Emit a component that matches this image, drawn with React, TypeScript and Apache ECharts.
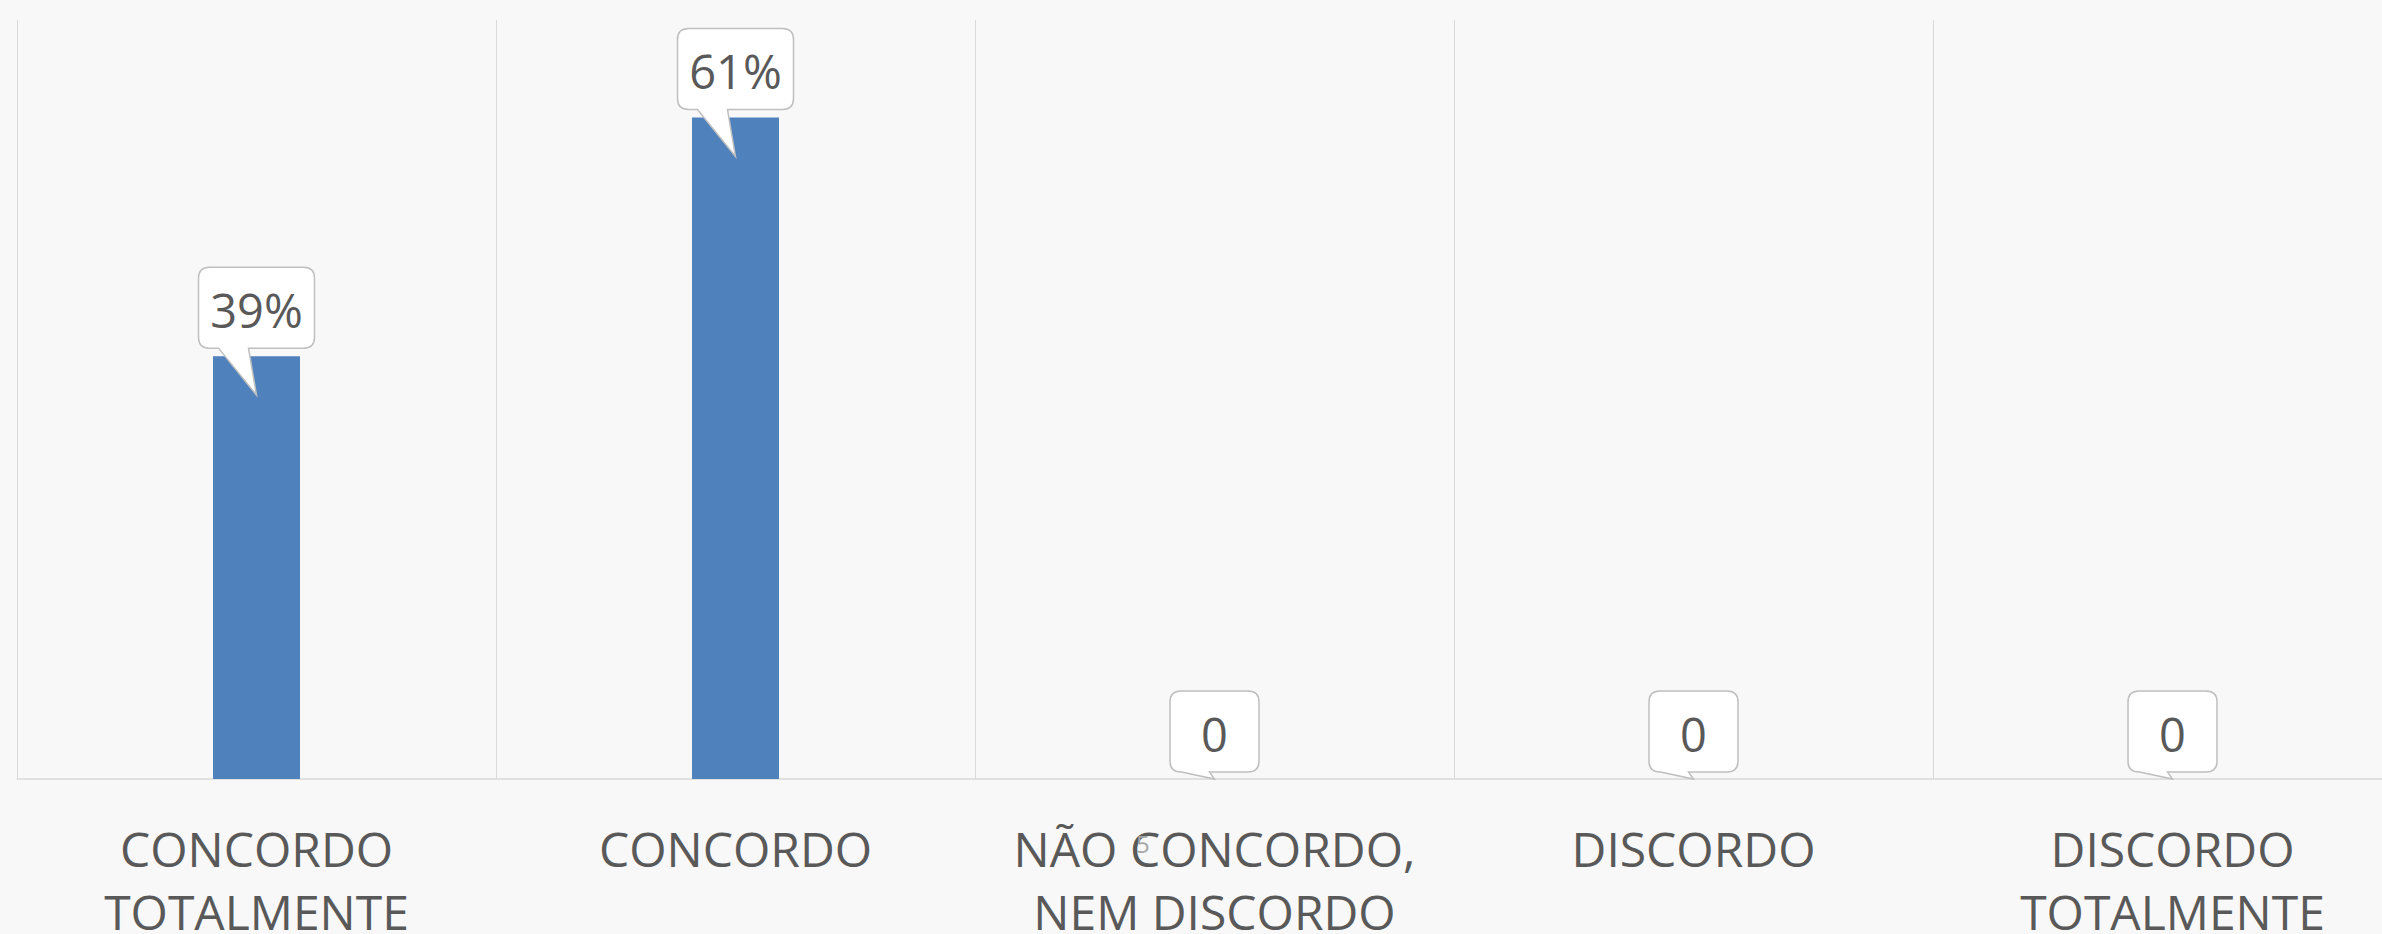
import React, { useEffect, useRef } from "react";
import * as echarts from "echarts";

const categories = [
  "CONCORDO\nTOTALMENTE",
  "CONCORDO",
  "NÃO CONCORDO,\nNEM DISCORDO",
  "DISCORDO",
  "DISCORDO\nTOTALMENTE",
];
const values = [0.39, 0.61, 0, 0, 0];
const valueLabels = ["39%", "61%", "0", "0", "0"];
const yMin = 0;
const yMax = 0.7;
const pageNumber = "5";

export default function App() {
  const ref = useRef<HTMLDivElement>(null);

  useEffect(() => {
    if (!ref.current) return;
    const chart = echarts.init(ref.current, undefined, { renderer: "svg" });

    const calloutData = values.map((v, i) => [i, v]);

    const option: any = {
      animation: false,
      backgroundColor: "#F8F8F8",
      grid: {
        left: 17,
        right: 8,
        top: 20,
        bottom: 155,
        containLabel: false,
        outerBoundsMode: "none",
      },
      xAxis: {
        type: "category",
        data: categories,
        boundaryGap: true,
        axisLine: { show: true, lineStyle: { color: "#D9D9D9", width: 1.5 } },
        axisTick: { show: false },
        splitLine: { show: true, interval: 0, lineStyle: { color: "#D9D9D9", width: 1 } },
        axisLabel: {
          interval: 0,
          margin: 38,
          fontSize: 48,
          lineHeight: 63,
          fontFamily: "Open Sans",
          color: "#595959",
        },
      },
      yAxis: {
        type: "value",
        min: yMin,
        max: yMax,
        show: false,
        splitLine: { show: false },
      },
      series: [
        {
          type: "bar",
          data: values,
          barWidth: 87,
          itemStyle: { color: "#4F81BD" },
          z: 2,
        },
        {
          type: "custom",
          data: calloutData,
          encode: { x: 0, y: 1 },
          z: 5,
          clip: false,
          renderItem: (params: any, api: any) => {
            const idx = params.dataIndex;
            const v = api.value(1);
            const pt = api.coord([api.value(0), v]);
            const cx = pt[0];
            const yTop = pt[1];
            const isZero = v === 0;
            const w = isZero ? 89 : 116;
            const h = 81;
            const gap = isZero ? 7 : 8;
            const tipDy = isZero ? 0 : 39;
            const x0 = cx - w / 2;
            const x1 = cx + w / 2;
            const y1 = yTop - gap;
            const y0 = y1 - h;
            const r = 11;
            const tx0 = cx - (isZero ? 33 : 38);
            const tx1 = cx - (isZero ? 5 : 8);
            const px = cx;
            const py = yTop + tipDy;
            const d =
              `M${x0 + r},${y0} L${x1 - r},${y0} Q${x1},${y0} ${x1},${y0 + r} ` +
              `L${x1},${y1 - r} Q${x1},${y1} ${x1 - r},${y1} L${tx1},${y1} L${px},${py} ` +
              `L${tx0},${y1} L${x0 + r},${y1} Q${x0},${y1} ${x0},${y1 - r} ` +
              `L${x0},${y0 + r} Q${x0},${y0} ${x0 + r},${y0} Z`;
            return {
              type: "group",
              children: [
                {
                  type: "path",
                  shape: { pathData: d },
                  style: { fill: "#FFFFFF", stroke: "#BFBFBF", lineWidth: 1.5 },
                },
                {
                  type: "text",
                  style: {
                    text: valueLabels[idx],
                    x: cx,
                    y: (y0 + y1) / 2 + 2,
                    align: "center",
                    verticalAlign: "middle",
                    fontSize: 47,
                    fontFamily: "Open Sans",
                    fill: "#595959",
                  },
                },
              ],
            };
          },
        },
      ],
      graphic: [
        {
          type: "text",
          left: 1136,
          top: 831,
          z: 100,
          style: {
            text: pageNumber,
            fontSize: 24,
            fontFamily: "Open Sans",
            fill: "#A6A6A6",
          },
        },
      ],
    };

    chart.setOption(option);
    return () => chart.dispose();
  }, []);

  return (
    <div
      style={{
        position: "fixed",
        left: 0,
        top: 0,
        width: 2382,
        height: 934,
        overflow: "hidden",
        background: "#F8F8F8",
      }}
    >
      <div ref={ref} style={{ width: 2420, height: 934 }} />
    </div>
  );
}
